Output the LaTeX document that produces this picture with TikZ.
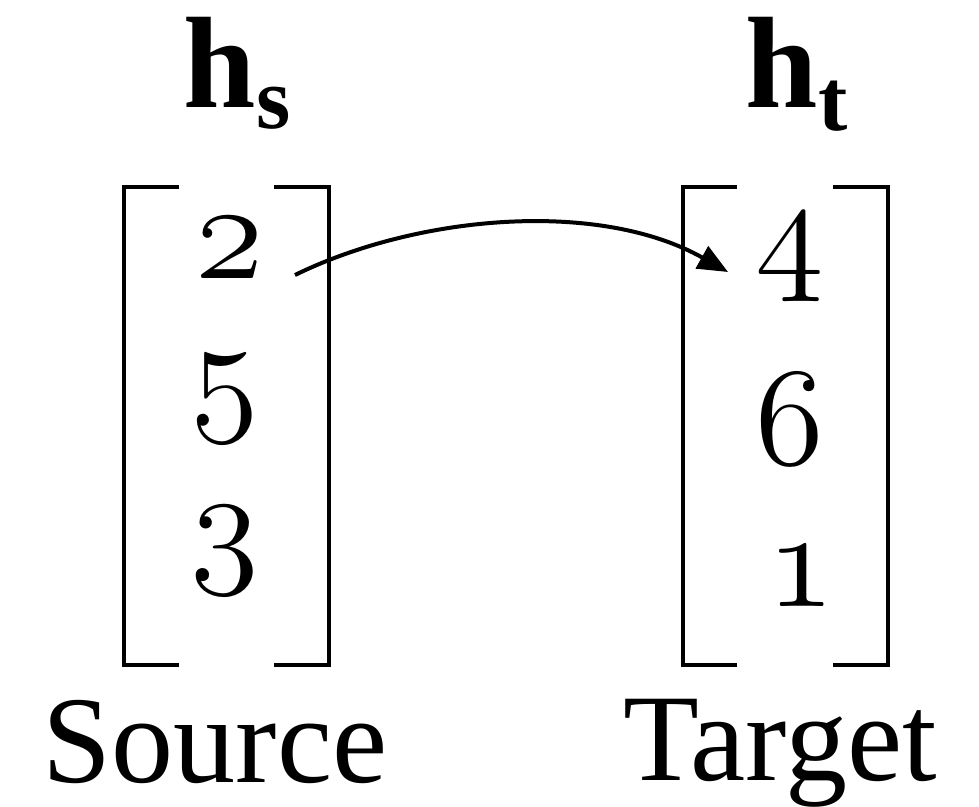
\documentclass[tikz,border=0pt]{standalone}
\usepackage{graphicx}
\usepackage{fontspec}
\setmainfont{Liberation Serif}
\usetikzlibrary{arrows.meta}
\newcommand{\osn}[1]{\scalebox{1.6}{\fontsize{24.88}{28}\selectfont\usefont{OML}{cmm}{m}{it}#1}}
\begin{document}
\begin{tikzpicture}[x=0.01cm,y=-0.01cm,
  num/.style={inner sep=0pt,anchor=center},
  lbl/.style={inner sep=0pt,anchor=base,font=\fontsize{35.3}{40}\selectfont},
  vec/.style={inner sep=0pt,anchor=base west,font=\fontsize{37}{40}\selectfont\bfseries},
  brk/.style={line width=0.04cm},
  conn/.style={line width=0.04cm,-{Triangle[length=0.3cm,width=0.25cm]}}]
\useasboundingbox (0,0) rectangle (979,807);
% titles
\node[vec] (hs) at (183,108) {h\raisebox{-0.2cm}{\fontsize{25}{25}\selectfont s}};
\node[vec] (ht) at (745,108) {h\raisebox{-0.22cm}{\fontsize{25}{25}\selectfont t}};
% brackets
\draw[brk] (179,187) -- (124,187) -- (124,665) -- (179,665);
\draw[brk] (274,187) -- (329,187) -- (329,665) -- (274,665);
\draw[brk] (737,187) -- (683,187) -- (683,665) -- (737,665);
\draw[brk] (833,187) -- (888,187) -- (888,665) -- (833,665);
% numbers
\node[num] (two) at (230,248) {\osn{2}};
\node[num] (five) at (225,399) {\osn{5}};
\node[num] (three) at (225,551) {\osn{3}};
\node[num] (four) at (790,258) {\osn{4}};
\node[num] (six) at (790,419) {\osn{6}};
\node[num] (one) at (801,576) {\osn{1}};
% labels
\node[lbl] (src) at (215,782) {Source};
\node[lbl] (tgt) at (780,780) {Target};
% connector
\draw[conn] ([shift={(65,27)}]two.center) .. controls (420,214) and (600,200) .. ([shift={(-62,14)}]four.center);
\end{tikzpicture}
\end{document}
